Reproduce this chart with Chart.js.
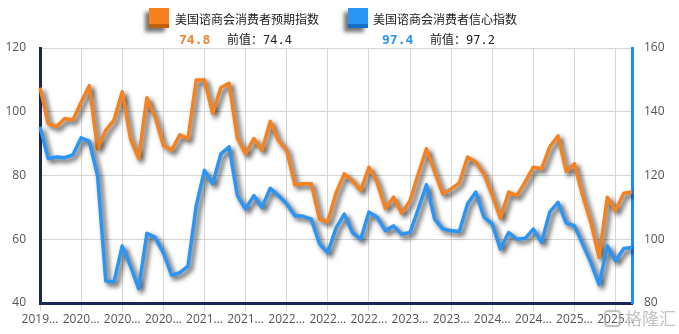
<!DOCTYPE html>
<html>
<head>
<meta charset="utf-8">
<script src="https://cdn.jsdelivr.net/npm/chart.js@4.4.1/dist/chart.umd.min.js"></script>
<style>
  body { margin: 0; background: #fff; }
  #wrap { position: relative; width: 679px; height: 334px; font-family: "Noto Sans CJK SC", sans-serif; overflow: hidden; }
  canvas { position: absolute; left: 0; top: 0; }
  .icon { position: absolute; width: 20px; height: 16px; top: 8px; box-shadow: -4px 4px 4px rgba(0,0,0,0.55); }
  .name { position: absolute; top: 11px; font-size: 12px; color: #222; line-height: 16px; white-space: nowrap; }
  .val { position: absolute; top: 32px; font-family: "DejaVu Sans Mono", monospace; font-weight: bold; font-size: 13px; line-height: 16px; }
  .prev { position: absolute; top: 32px; font-family: "DejaVu Sans Mono", "Noto Sans CJK SC", monospace; font-size: 12px; color: #222; line-height: 16px; white-space: nowrap; }
  .mark { position: absolute; left: 604px; top: 307px; font-size: 17px; line-height: 22px; color: rgba(175,175,175,0.75); white-space: nowrap; }
  .mark span { display: inline-block; width: 13px; height: 13px; border: 2px solid rgba(175,175,175,0.75); border-radius: 4px; margin-right: 4px; vertical-align: -2px; }
</style>
</head>
<body>
<div id="wrap">
  <canvas id="lineChart" width="679" height="334"></canvas>

  <div class="icon" style="left:149px;background:#f5821f;border-bottom:4px solid #c0600c;"></div>
  <div class="name" style="left:175px;">美国谘商会消费者预期指数</div>
  <div class="val" style="left:179px;color:#f5822a;">74.8</div>
  <div class="prev" style="left:227px;">前值：74.4</div>

  <div class="icon" style="left:348px;background:#2a95f5;border-bottom:4px solid #156fc4;"></div>
  <div class="name" style="left:373px;">美国谘商会消费者信心指数</div>
  <div class="val" style="left:382px;color:#2a95f5;">97.4</div>
  <div class="prev" style="left:430px;">前值：97.2</div>

  <div class="mark"><span></span>格隆汇</div>
</div>

<script>
// MONTHS (2019-08 .. 2025-08)
const months = [
  "2019-08","2019-09","2019-10","2019-11","2019-12",
  "2020-01","2020-02","2020-03","2020-04","2020-05","2020-06","2020-07","2020-08","2020-09","2020-10","2020-11","2020-12",
  "2021-01","2021-02","2021-03","2021-04","2021-05","2021-06","2021-07","2021-08","2021-09","2021-10","2021-11","2021-12",
  "2022-01","2022-02","2022-03","2022-04","2022-05","2022-06","2022-07","2022-08","2022-09","2022-10","2022-11","2022-12",
  "2023-01","2023-02","2023-03","2023-04","2023-05","2023-06","2023-07","2023-08","2023-09","2023-10","2023-11","2023-12",
  "2024-01","2024-02","2024-03","2024-04","2024-05","2024-06","2024-07","2024-08","2024-09","2024-10","2024-11","2024-12",
  "2025-01","2025-02","2025-03","2025-04","2025-05","2025-06","2025-07","2025-08"
];

// 预期指数 (left axis)
const expectations = [
  107.6, 96.3, 95.3, 97.9, 97.4,
  103.0, 108.2, 88.4, 94.2, 97.4, 106.3, 91.6, 85.3, 104.4, 98.4, 89.5, 87.9,
  92.8, 91.5, 110.0, 110.0, 99.5, 107.6, 108.9, 91.8, 86.8, 91.6, 87.9, 97.0,
  91.0, 87.9, 77.1, 77.4, 77.4, 66.3, 65.5, 74.5, 80.5, 78.4, 75.3, 82.6,
  77.9, 69.7, 73.2, 68.2, 72.1, 80.5, 88.4, 81.1, 74.2, 75.8, 77.7, 85.8,
  84.2, 80.5, 73.8, 66.6, 74.8, 73.7, 77.9, 82.6, 82.1, 89.0, 92.4, 81.3,
  83.7, 73.7, 65.3, 54.3, 73.2, 69.0, 74.4, 74.8
];

// 信心指数 (right axis)
const confidence = [
  135.3, 125.3, 125.8, 125.6, 126.5,
  131.8, 130.7, 120.0, 86.9, 86.6, 97.9, 91.6, 84.5, 101.9, 100.6, 95.8, 88.7,
  89.5, 91.6, 110.5, 121.6, 117.4, 126.8, 129.0, 113.7, 109.5, 113.7, 110.0, 116.0,
  113.7, 111.1, 107.4, 107.2, 106.3, 98.5, 95.8, 103.5, 107.9, 102.1, 100.0, 108.5,
  106.9, 102.7, 104.2, 101.6, 102.1, 109.5, 117.1, 106.3, 103.2, 102.7, 102.4, 111.1,
  114.8, 106.9, 104.8, 96.9, 102.1, 100.0, 100.3, 103.2, 99.0, 108.6, 111.6, 105.1,
  104.2, 98.5, 92.7, 85.8, 97.9, 93.2, 97.1, 97.4
];

const leftTicks = [40, 60, 80, 100, 120];
const rightTicks = [80, 100, 120, 140, 160];
const labelEvery = 5;

const tickFont = { family: "Open Sans", size: 12 };

// drop shadow under the lines
const lineShadow = {
  id: "lineShadow",
  beforeDatasetDraw(chart) {
    const c = chart.ctx;
    c.save();
    c.shadowColor = "rgba(0,0,0,0.75)";
    c.shadowBlur = 5;
    c.shadowOffsetX = 3;
    c.shadowOffsetY = 3;
  },
  afterDatasetDraw(chart) {
    chart.ctx.restore();
  }
};

new Chart(document.getElementById("lineChart"), {
  type: "line",
  data: {
    labels: months,
    datasets: [
      {
        label: "美国谘商会消费者信心指数",
        data: confidence,
        yAxisID: "y1",
        borderColor: "#2a95f5",
        borderWidth: 3.5,
        pointRadius: 0,
        tension: 0,
        borderJoinStyle: "round"
      },
      {
        label: "美国谘商会消费者预期指数",
        data: expectations,
        yAxisID: "y",
        borderColor: "#f5821f",
        borderWidth: 3.5,
        pointRadius: 0,
        tension: 0,
        borderJoinStyle: "round"
      }
    ]
  },
  options: {
    responsive: false,
    animation: false,
    layout: { padding: { top: 48, left: 0, right: 0, bottom: 0 } },
    plugins: {
      legend: { display: false },
      tooltip: { enabled: false }
    },
    scales: {
      x: {
        offset: false,
        border: { color: "#1c2755", width: 3 },
        grid: { color: "#d6d6d6", lineWidth: 1, tickLength: 8 },
        ticks: {
          autoSkip: false,
          maxRotation: 0,
          color: "#555",
          font: tickFont,
          padding: 1,
          callback: (v, i) => i % labelEvery === 0 ? months[i].slice(0, 4) + "…" : null
        },
        afterFit: s => { s.height = 31; }
      },
      y: {
        position: "left",
        min: leftTicks[0],
        max: leftTicks[leftTicks.length - 1],
        afterBuildTicks: s => { s.ticks = leftTicks.map(v => ({ value: v })); },
        border: { color: "#1c2755", width: 3 },
        grid: { color: "#d6d6d6", drawTicks: false },
        ticks: { color: "#555", font: tickFont, padding: 14 },
        afterFit: s => { s.width = 40; }
      },
      y1: {
        position: "right",
        min: rightTicks[0],
        max: rightTicks[rightTicks.length - 1],
        afterBuildTicks: s => { s.ticks = rightTicks.map(v => ({ value: v })); },
        border: { color: "#1a8cff", width: 3 },
        grid: { display: false, drawTicks: false },
        ticks: { color: "#555", font: tickFont, padding: 12 },
        afterFit: s => { s.width = 47; }
      }
    }
  },
  plugins: [lineShadow]
});
</script>
</body>
</html>
